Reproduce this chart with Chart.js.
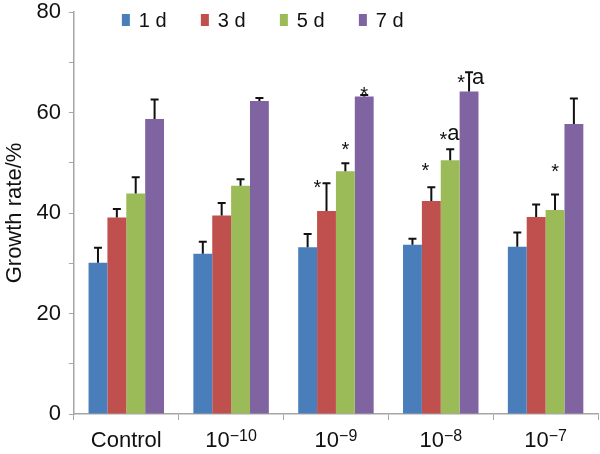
<!DOCTYPE html>
<html><head><meta charset="utf-8">
<script src="https://cdn.jsdelivr.net/npm/chart.js@4"></script>
<style>html,body{margin:0;padding:0;background:#fff}#wrap{width:600px;height:454px}</style>
</head><body><div id="wrap"><canvas id="c" width="600" height="454"></canvas></div>
<script>
const categories = ['Control', '10^−10', '10^−9', '10^−8', '10^−7'];
const seriesNames = ['1 d', '3 d', '5 d', '7 d'];
const day1 = [30.1, 31.9, 33.2, 33.7, 33.3];
const day3 = [39.1, 39.5, 40.4, 42.4, 39.2];
const day5 = [43.9, 45.4, 48.3, 50.5, 40.6];
const day7 = [58.7, 62.3, 63.2, 64.2, 57.7];
const err1 = [3.0, 2.4, 2.6, 1.2, 2.8];
const err3 = [1.7, 2.5, 5.5, 2.7, 2.5];
const err5 = [3.2, 1.3, 1.6, 2.2, 3.1];
const err7 = [3.9, 0.6, 0.3, 3.8, 5.1];
const yTickLabels = [0, 20, 40, 60, 80];
// significance marks: category index, series index, text before / after the error cap
const markCat = [2, 2, 2, 3, 3, 3, 4];
const markSeries = [1, 2, 3, 1, 2, 3, 2];
const markText = ['*', '*', '*', '*', '*a', '*|a', '*'];

const colors = ['#4A7EBB', '#C0504D', '#9BBB59', '#8064A2'];
const values = [day1, day3, day5, day7];
const errors = [err1, err3, err5, err7];
const FONT = '"Liberation Sans", Arial, sans-serif';

const errorBars = {
  id: 'errorBars',
  afterDatasetsDraw(chart) {
    const ctx = chart.ctx, ys = chart.scales.y;
    ctx.save();
    ctx.strokeStyle = '#111';
    ctx.lineWidth = 2;
    chart.data.datasets.forEach((ds, i) => {
      const meta = chart.getDatasetMeta(i);
      meta.data.forEach((bar, j) => {
        const top = ys.getPixelForValue(values[i][j] + errors[i][j]);
        ctx.beginPath();
        ctx.moveTo(bar.x, bar.y);
        ctx.lineTo(bar.x, top);
        ctx.moveTo(bar.x - 4, top);
        ctx.lineTo(bar.x + 4, top);
        ctx.stroke();
      });
    });
    // significance marks
    ctx.fillStyle = '#111';
    ctx.textBaseline = 'middle';
    markCat.forEach((c, k) => {
      const s = markSeries[k];
      const bar = chart.getDatasetMeta(s).data[c];
      const top = ys.getPixelForValue(values[s][c] + errors[s][c]);
      const t = markText[k];
      if (t.indexOf('|') >= 0) {
        const [l, r] = t.split('|');
        ctx.font = '20px ' + FONT;
        ctx.textAlign = 'right';
        ctx.fillText(l, bar.x - 4, top + 11);
        ctx.font = '22px ' + FONT;
        ctx.textAlign = 'left';
        ctx.fillText(r, bar.x + 3, top + 6);
      } else if (t === '*a') {
        ctx.font = '20px ' + FONT;
        ctx.textAlign = 'right';
        ctx.fillText('*', bar.x - 3, top - 9);
        ctx.font = '22px ' + FONT;
        ctx.textAlign = 'left';
        ctx.fillText('a', bar.x - 3, top - 15);
      } else {
        ctx.font = '20px ' + FONT;
        ctx.textAlign = 'center';
        let x = bar.x, y = top - 12;
        if (c === 2 && s === 1) { x = bar.x - 9; y = top + 5; }
        else if (c === 2 && s === 3) { y = top + 1; }
        else if (c === 3 && s === 1) { x = bar.x - 6; y = top - 16; }
        else if (c === 4 && s === 2) { y = top - 22; }
        else if (c === 2 && s === 2) { y = top - 13; }
        ctx.fillText(t, x, y);
      }
    });
    ctx.restore();
  }
};

const customLabels = {
  id: 'customLabels',
  afterDraw(chart) {
    const ctx = chart.ctx, xs = chart.scales.x, area = chart.chartArea;
    ctx.save();
    ctx.fillStyle = '#111';
    ctx.textBaseline = 'alphabetic';
    ctx.textAlign = 'left';
    const baseY = area.bottom + 33;
    categories.forEach((lab, j) => {
      const cx = xs.getPixelForValue(j);
      const parts = lab.split('^');
      ctx.font = '22px ' + FONT;
      const w0 = ctx.measureText(parts[0]).width;
      let w1 = 0;
      if (parts[1]) { ctx.font = '16px ' + FONT; w1 = ctx.measureText(parts[1]).width; }
      const x0 = cx - (w0 + w1) / 2;
      ctx.font = '22px ' + FONT;
      ctx.fillText(parts[0], x0, baseY);
      if (parts[1]) {
        ctx.font = '16px ' + FONT;
        ctx.fillText(parts[1], x0 + w0, baseY - 6);
      }
    });
    // legend
    ctx.textBaseline = 'middle';
    const ly = 20;
    seriesNames.forEach((n, i) => {
      const bx = area.left + 48 + i * 79;
      ctx.fillStyle = colors[i];
      ctx.fillRect(bx, ly - 6, 8, 12);
      ctx.fillStyle = '#111';
      ctx.font = '20px ' + FONT;
      ctx.fillText(n, bx + 17, ly + 1);
    });
    ctx.restore();
  }
};

new Chart(document.getElementById('c'), {
  type: 'bar',
  data: {
    labels: categories,
    datasets: seriesNames.map((n, i) => ({
      label: n, data: values[i], backgroundColor: colors[i],
      borderWidth: 0, categoryPercentage: 0.72, barPercentage: 1.0
    }))
  },
  options: {
    responsive: false, animation: false, devicePixelRatio: 1,
    layout: { padding: { left: 2, right: 2, top: 12, bottom: 34 } },
    plugins: { legend: { display: false }, tooltip: { enabled: false } },
    scales: {
      x: {
        grid: { display: true, drawOnChartArea: false, drawTicks: true, tickLength: 6, color: '#A6A6A6', offset: true },
        border: { color: '#A6A6A6', width: 1.5 },
        ticks: { display: false }
      },
      y: {
        min: 0, max: 80,
        afterBuildTicks(scale) { scale.ticks = [0,10,20,30,40,50,60,70,80].map(v => ({ value: v })); },
        afterFit(scale) { scale.paddingTop = 0; scale.paddingBottom = 0; },
        grid: { display: true, drawOnChartArea: false, drawTicks: true, tickLength: 5, color: '#A6A6A6' },
        border: { color: '#A6A6A6', width: 1.5 },
        ticks: {
          padding: 8, color: '#111', font: { family: FONT, size: 22 },
          callback: v => yTickLabels.includes(v) ? String(v) : ''
        },
        title: { display: true, text: 'Growth rate/%', color: '#111', font: { family: FONT, size: 22 }, padding: { top: 0, bottom: 0 } }
      }
    }
  },
  plugins: [errorBars, customLabels]
});
</script></body></html>
